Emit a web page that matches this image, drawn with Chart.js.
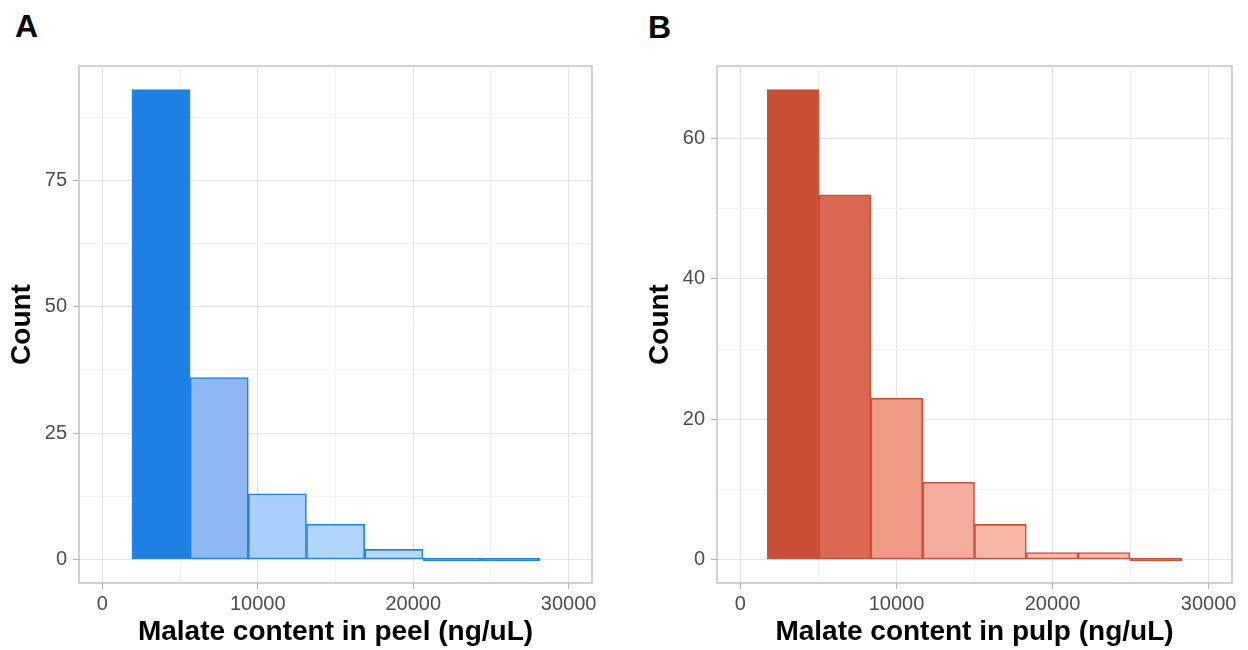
<!DOCTYPE html>
<html>
<head>
<meta charset="utf-8">
<script src="https://cdn.jsdelivr.net/npm/chart.js@4"></script>
<style>
  body { margin: 0; background: #fff; width: 1248px; height: 650px; position: relative; overflow: hidden; font-family: "Liberation Sans", Arial, sans-serif; }
  canvas { position: absolute; top: 0; }
  .tag { position: absolute; font-weight: bold; font-size: 32px; color: #000; }
</style>
</head>
<body>
<div class="tag" style="left:15px;top:8px">A</div>
<div class="tag" style="left:648px;top:9px">B</div>
<canvas id="peelChart" width="620" height="650" style="left:0"></canvas>
<canvas id="pulpChart" width="628" height="650" style="left:620px"></canvas>
<script>
// ========== DATA ==========
const peelEdges = [1900, 5650, 9390, 13130, 16880, 20630, 24380, 28140];
const peelCounts = [93, 36, 13, 7, 2, 0, 0];
const peelFills = ["#1E80E4", "#8FB7F4", "#ABCFFA", "#B2D5FB", "#B8D8FC", "#BBDAFC", "#BBDAFC"];

const pulpEdges = [1720, 5040, 8360, 11680, 15000, 18320, 21640, 24960, 28280];
const pulpCounts = [67, 52, 23, 11, 5, 1, 1, 0];
const pulpFills = ["#C94F37", "#DB6853", "#EF9A85", "#F5AE9D", "#F9B8A8", "#FBBCAC", "#FBBCAC", "#FBBEAE"];

const xTicks = [0, 5000, 10000, 15000, 20000, 25000, 30000];
const xLabels = [0, 10000, 20000, 30000];
const peelYTicks = [0, 12.5, 25, 37.5, 50, 62.5, 75, 87.5];
const peelYLabels = [0, 25, 50, 75];
const pulpYTicks = [0, 10, 20, 30, 40, 50, 60];
const pulpYLabels = [0, 20, 40, 60];

// ========== STYLE ==========
Chart.defaults.font.family = '"Liberation Sans", Arial, sans-serif';
const MAJOR = "#E4E4E4";
const MINOR = "#F3F3F3";
const TICK = "#B3B3B3";

// grey box round the panel, like theme_light
const panelBox = {
  id: "panelBox",
  afterDraw(chart) {
    const { ctx, chartArea: a } = chart;
    ctx.save();
    ctx.strokeStyle = "#B5B5B5";
    ctx.lineWidth = 1.2;
    ctx.strokeRect(a.left, a.top, a.right - a.left, a.bottom - a.top);
    ctx.restore();
  },
};

function histogram(id, edges, counts, fills, outline, yTicks, yLabels, yMin, yMax, xTitle, padLeft, padRight) {
  const points = counts.map((c, i) => ({ x: (edges[i] + edges[i + 1]) / 2, y: c }));
  return new Chart(document.getElementById(id), {
    type: "bar",
    data: {
      datasets: [
        {
          data: points,
          // empty bins show only as the outline along zero
          backgroundColor: (c) => (counts[c.dataIndex] === 0 ? outline : fills[c.dataIndex]),
          borderColor: outline,
          borderWidth: 1.6,
          borderSkipped: false,
          minBarLength: 2.4,
          barPercentage: 1,
          categoryPercentage: 1,
        },
      ],
    },
    options: {
      responsive: false,
      animation: false,
      devicePixelRatio: 1,
      layout: { padding: { top: 66, right: padRight, bottom: 0, left: padLeft } },
      plugins: { legend: { display: false }, tooltip: { enabled: false } },
      scales: {
        x: {
          type: "linear",
          min: -1500,
          max: 31500,
          offset: false,
          afterBuildTicks: (s) => { s.ticks = xTicks.map((v) => ({ value: v })); },
          afterFit: (s) => { s.height = 67; },
          border: { display: false },
          grid: {
            offset: false,
            tickLength: 6,
            color: (c) => (xLabels.includes(c.tick.value) ? MAJOR : MINOR),
            tickColor: (c) => (xLabels.includes(c.tick.value) ? TICK : "rgba(0,0,0,0)"),
          },
          ticks: {
            autoSkip: false,
            maxRotation: 0,
            padding: 3,
            color: "#4D4D4D",
            font: { size: 20 },
            callback: (v) => (xLabels.includes(v) ? String(v) : ""),
          },
          title: {
            display: true,
            text: xTitle,
            color: "#000",
            font: { size: 28, weight: "bold" },
            padding: { top: 0, bottom: 1 },
          },
        },
        y: {
          min: yMin,
          max: yMax,
          afterBuildTicks: (s) => { s.ticks = yTicks.map((v) => ({ value: v })); },
          afterFit: (s) => { s.width = 79; },
          border: { display: false },
          grid: {
            tickLength: 6,
            color: (c) => (yLabels.includes(c.tick.value) ? MAJOR : MINOR),
            tickColor: (c) => (yLabels.includes(c.tick.value) ? TICK : "rgba(0,0,0,0)"),
          },
          ticks: {
            autoSkip: false,
            padding: 6,
            color: "#4D4D4D",
            font: { size: 20 },
            callback: (v) => (yLabels.includes(v) ? String(v) : ""),
          },
          title: {
            display: true,
            text: "Count",
            color: "#000",
            font: { size: 28, weight: "bold" },
            padding: { top: 5, bottom: 0 },
          },
        },
      },
    },
    plugins: [panelBox],
  });
}

// ========== PEEL ==========
histogram("peelChart", peelEdges, peelCounts, peelFills, "#1E82E6",
  peelYTicks, peelYLabels, -4.65, 97.65, "Malate content in peel (ng/uL)", 0, 28);

// ========== PULP ==========
histogram("pulpChart", pulpEdges, pulpCounts, pulpFills, "#CD4F39",
  pulpYTicks, pulpYLabels, -3.35, 70.35, "Malate content in pulp (ng/uL)", 18, 16);
</script>
</body>
</html>
